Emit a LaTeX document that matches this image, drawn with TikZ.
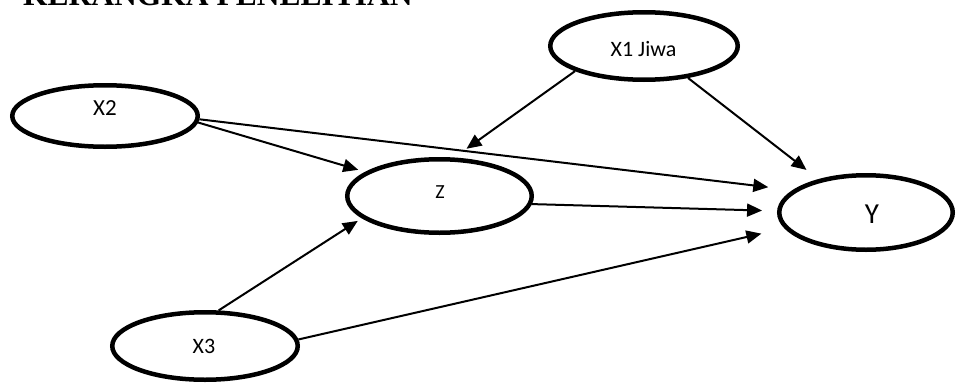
\documentclass[tikz,border=0pt]{standalone}
\usepackage{fontspec}
\setmainfont{Carlito}
\newfontfamily\titleserif{Liberation Serif}
\usetikzlibrary{arrows.meta,shapes.geometric}
\begin{document}
\begin{tikzpicture}[x=1pt,y=-1pt,
  ell/.style={draw, ellipse, line width=4.5pt, inner sep=0pt},
  lbl/.style={font=\fontsize{#1}{#1}\selectfont, inner sep=0pt},
  conn/.style={-{Triangle[length=15pt,width=13pt]}, line width=2pt}]
\useasboundingbox (0,0) rectangle (956,383);
\clip (0,0) rectangle (956,383);
\fill[white] (0,0) rectangle (956,383);
\node[anchor=base west, inner sep=0pt, font=\titleserif\bfseries\fontsize{31.5}{31.5}\selectfont] (title) at (23,5) {KERANGKA PENELITIAN};
\node[ell, minimum width=187.5pt, minimum height=67.5pt,
  label={[lbl=22, xshift=-0.5pt, yshift=-3.5pt]center:X1 Jiwa}] (j) at (644,46) {};
\node[ell, minimum width=185.5pt, minimum height=61.5pt,
  label={[lbl=23, yshift=7.5pt]center:X2}] (x2) at (105,116) {};
\node[ell, minimum width=184.5pt, minimum height=73.5pt,
  label={[lbl=20, xshift=0.5pt, yshift=3.5pt]center:Z}] (z) at (439.5,196) {};
\node[ell, minimum width=173.5pt, minimum height=74.5pt,
  label={[lbl=29, xshift=6pt, yshift=-1.5pt]center:Y}] (y) at (866,212.5) {};
\node[ell, minimum width=185.5pt, minimum height=67.5pt,
  label={[lbl=22, xshift=-1pt, yshift=-0.5pt]center:X3}] (x3) at (205,346) {};
\draw[conn, shorten >=15pt] (j.200.9) -- (z.69.6);
\draw[conn, shorten >=15pt] (j.324) -- (y.145.3);
\draw[conn, shorten >=7.3pt] (x2.356.1) -- (z.162.2);
\draw[conn, shorten >=24.6pt] (x2.358.8) -- (y.163.9);
\draw[conn, shorten >=15pt] (z.355.1) -- (y.179.3);
\draw[conn, shorten >=4.9pt] (x3.69) -- (z.196.1);
\draw[conn, shorten >=23.7pt] (x3.4.6) -- (y.191.4);
\end{tikzpicture}
\end{document}
